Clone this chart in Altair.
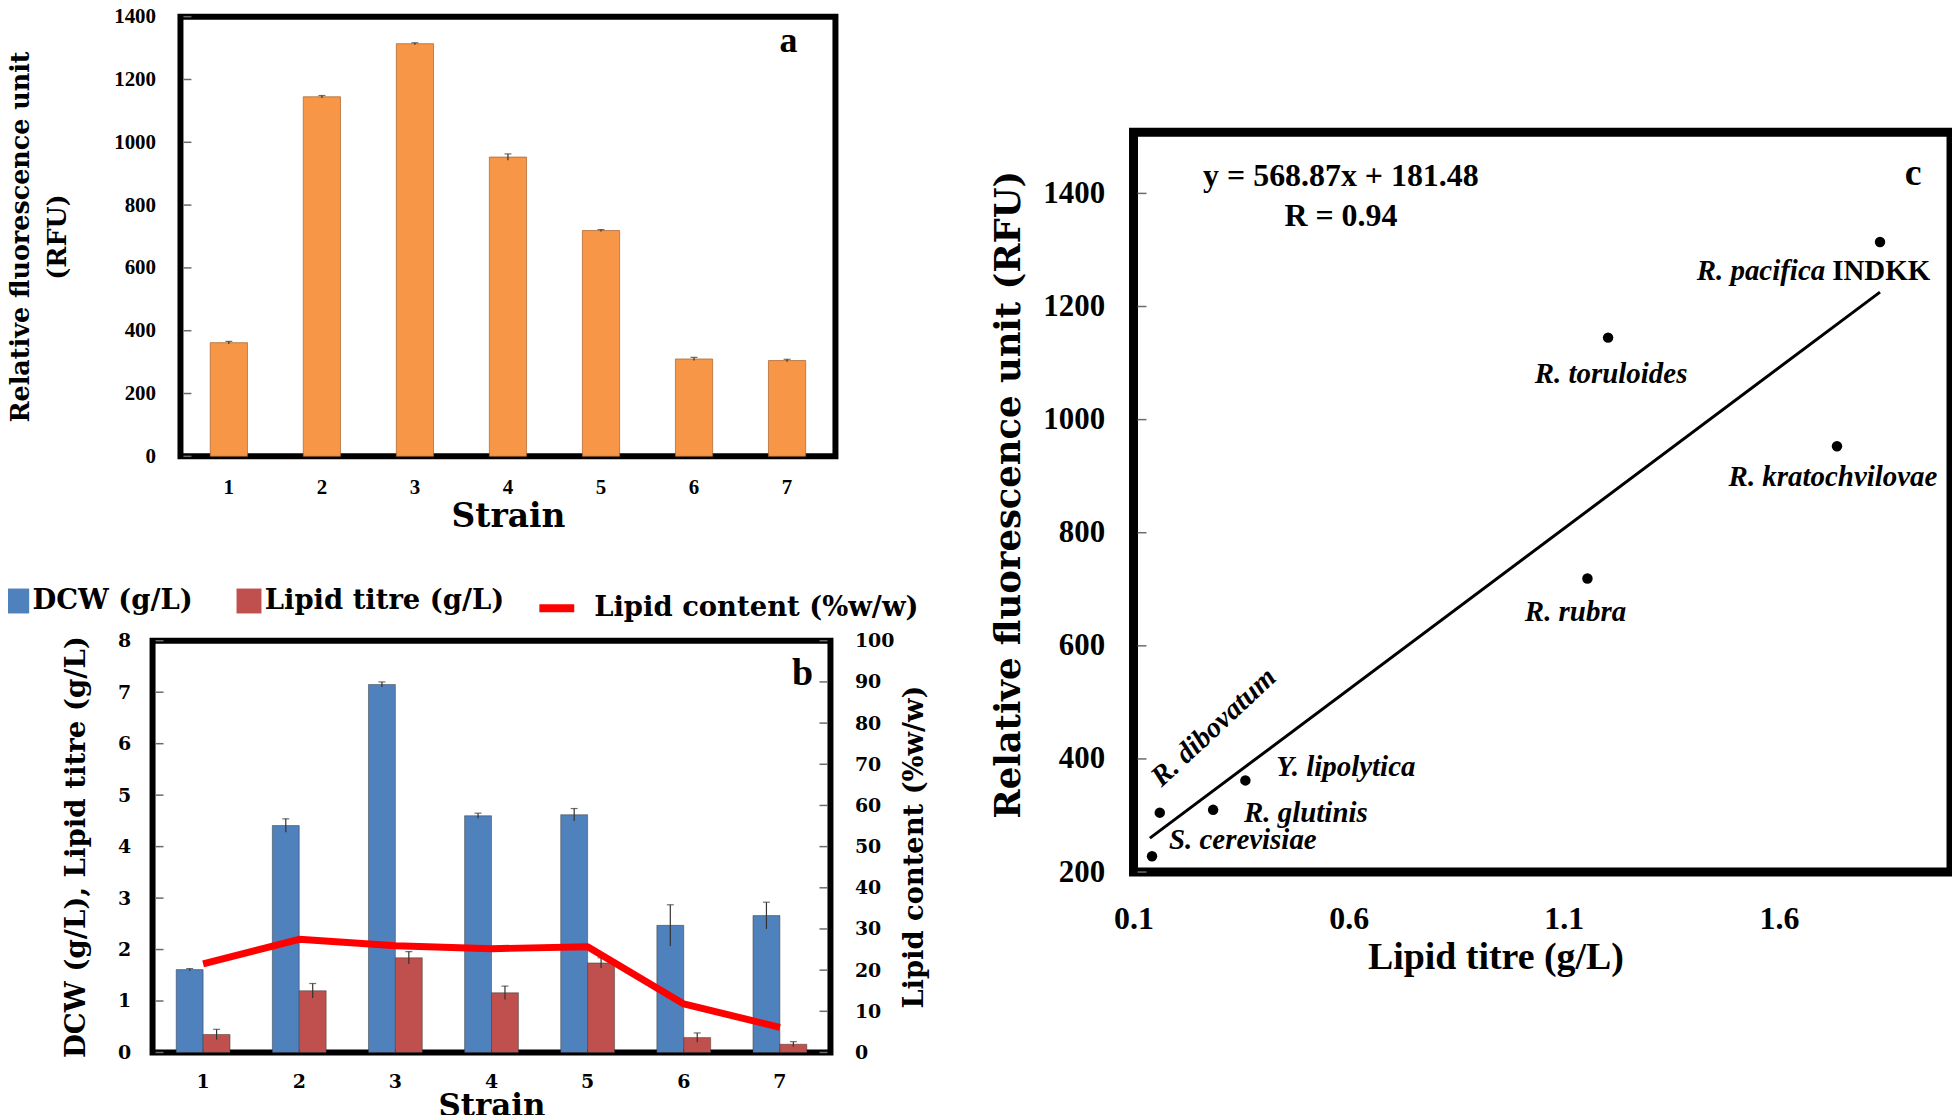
import altair as alt
import pandas as pd

# ---------------- data ----------------
strains = ["1", "2", "3", "4", "5", "6", "7"]

# panel a
rfu = [362, 1145, 1314, 953, 719, 310, 305]
rfu_err = [4, 4, 3, 10, 3, 5, 4]
rfu_ticks = list(range(0, 1401, 200))

# panel b
dcw = [1.61, 4.41, 7.15, 4.60, 4.62, 2.47, 2.66]
dcw_err = [0.02, 0.13, 0.05, 0.05, 0.12, 0.40, 0.26]
lipid = [0.35, 1.20, 1.84, 1.16, 1.74, 0.29, 0.16]
lipid_err = [0.10, 0.14, 0.12, 0.13, 0.10, 0.09, 0.05]
lipid_content = [21.5, 27.5, 25.9, 25.2, 25.7, 11.8, 6.1]
series_b = ["DCW (g/L)", "Lipid titre (g/L)"]
series_line = "Lipid content (%w/w)"
left_ticks_b = list(range(0, 9))
right_ticks_b = list(range(0, 101, 10))

# panel c
species = ["S. cerevisiae", "R. dibovatum", "R. glutinis", "Y. lipolytica",
           "R. rubra", "R. toruloides", "R. kratochvilovae", "R. pacifica INDKK"]
titre_c = [0.143, 0.161, 0.285, 0.360, 1.155, 1.203, 1.735, 1.835]
rfu_c = [228, 305, 310, 362, 719, 1145, 953, 1314]
fit_slope = 568.87
fit_intercept = 181.48
fit_x = [0.138, 1.835]
titre_ticks = [0.1, 0.6, 1.1, 1.6]
rfu_ticks_c = list(range(200, 1401, 200))

# ---------------- styles ----------------
SERIF_W = "DejaVu Serif"
TIMES = "Liberation Serif"
BLACK = "black"
TICK = "#6b6b6b"


def frame(w):
    return alt.ViewBackground(stroke="black", strokeWidth=w)


# ---------------- panel a ----------------
df_a = pd.DataFrame({"strain": strains, "rfu": rfu, "err": rfu_err})
df_a["lo"] = df_a["rfu"] - df_a["err"]
df_a["hi"] = df_a["rfu"] + df_a["err"]

xa_scale = alt.Scale(paddingInner=0.6, paddingOuter=0.32)
ya_scale = alt.Scale(domain=[0, 1400], nice=False)
xa = alt.X("strain:O", scale=xa_scale, sort=strains,
           axis=alt.Axis(title="Strain", labelAngle=0, ticks=False, domain=False,
                         labelFont=TIMES, labelFontSize=21, labelFontWeight="bold",
                         labelColor=BLACK, labelPadding=20,
                         titleFont=SERIF_W, titleFontSize=33, titleFontWeight="bold",
                         titleColor=BLACK, titlePadding=3))
ya_axis = alt.Axis(values=rfu_ticks, format="d", ticks=False,
                   domain=False, grid=False, labelFont=TIMES, labelFontSize=21,
                   labelFontWeight="bold", labelColor=BLACK, labelPadding=25,
                   title=["Relative fluorescence unit", "(RFU)"],
                   titleFont=SERIF_W, titleFontSize=25.5, titleFontWeight="bold",
                   titleColor=BLACK, titlePadding=43, titleLineHeight=37)
ya = alt.Y("rfu:Q", scale=ya_scale, axis=ya_axis)

base_a = alt.Chart(df_a)
bars_a = base_a.mark_bar(color="#F79646", stroke="#A8602A", strokeWidth=1,
                         strokeOpacity=0.7).encode(x=xa, y=ya)
err_a = base_a.mark_rule(color="#333333", strokeWidth=1.2).encode(
    x=alt.X("strain:O", scale=xa_scale, sort=strains), y="lo:Q", y2="hi:Q")
cap_a = base_a.mark_tick(color="#333333", size=7, thickness=1.2).encode(
    x=alt.X("strain:O", scale=xa_scale, sort=strains), y="hi:Q")
ticks_a = alt.Chart(pd.DataFrame({"rfu": rfu_ticks})).mark_rule(
    color=TICK, strokeWidth=1.5).encode(
    y=alt.Y("rfu:Q", scale=ya_scale, axis=ya_axis), x=alt.value(3), x2=alt.value(11))
lab_a = alt.Chart(pd.DataFrame({"t": ["a"]})).mark_text(
    font=TIMES, fontSize=36, fontWeight="bold", color=BLACK, align="center",
    baseline="middle").encode(text="t:N", x=alt.value(610), y=alt.value(24))

panel_a = alt.layer(bars_a, err_a, cap_a, ticks_a, lab_a).properties(
    width=657, height=441, view=frame(6))

# ---------------- panel b ----------------
df_b = pd.DataFrame({
    "strain": strains * 2,
    "series": [series_b[0]] * 7 + [series_b[1]] * 7,
    "value": dcw + lipid,
    "err": dcw_err + lipid_err,
})
df_b["lo"] = df_b["value"] - df_b["err"]
df_b["hi"] = df_b["value"] + df_b["err"]
df_line = pd.DataFrame({"strain": strains, "content": lipid_content,
                        "series": [series_line] * 7})

xb_scale = alt.Scale(paddingInner=0.44, paddingOuter=0.246)
xb_axis = alt.Axis(title="Strain", labelAngle=0, ticks=False, domain=False,
                   labelFont=SERIF_W, labelFontSize=19, labelFontWeight="bold",
                   labelColor=BLACK, labelPadding=20,
                   titleFont=SERIF_W, titleFontSize=31, titleFontWeight="bold",
                   titleColor=BLACK, titlePadding=0)
xb = alt.X("strain:O", scale=xb_scale, sort=strains, axis=xb_axis)
xoff = alt.XOffset("series:N", scale=alt.Scale(domain=series_b, paddingInner=0,
                                                paddingOuter=0))
yb_scale = alt.Scale(domain=[0, 8], nice=False)
yb_axis = alt.Axis(values=left_ticks_b, ticks=False, domain=False, grid=False,
                   labelFont=SERIF_W, labelFontSize=19, labelFontWeight="bold",
                   labelColor=BLACK, labelPadding=22,
                   title="DCW (g/L), Lipid titre (g/L)",
                   titleFont=SERIF_W, titleFontSize=27.7, titleFontWeight="bold",
                   titleColor=BLACK, titlePadding=27)
yb = alt.Y("value:Q", scale=yb_scale, axis=yb_axis)

base_b = alt.Chart(df_b)
bars_b = base_b.mark_bar(stroke="#333333", strokeWidth=0.8, strokeOpacity=0.6).encode(
    x=xb, xOffset=xoff, y=yb,
    color=alt.Color("series:N",
                    scale=alt.Scale(domain=series_b, range=["#4F81BD", "#C0504D"]),
                    legend=alt.Legend(orient="none", legendX=-150, legendY=-54,
                                      direction="horizontal", title=None,
                                      symbolType="square", symbolSize=625,
                                      symbolStrokeWidth=0, symbolOpacity=1,
                                      labelFont=SERIF_W, labelFontSize=27.5,
                                      labelFontWeight="bold", labelColor=BLACK,
                                      labelLimit=600, labelOffset=2,
                                      columnPadding=42)))
err_b = base_b.mark_rule(color="#333333", strokeWidth=1.2).encode(
    x=alt.X("strain:O", scale=xb_scale, sort=strains), xOffset=xoff,
    y="lo:Q", y2="hi:Q")
cap_b = base_b.mark_tick(color="#333333", size=7, thickness=1.2).encode(
    x=alt.X("strain:O", scale=xb_scale, sort=strains), xOffset=xoff, y="hi:Q")
lticks_b = alt.Chart(pd.DataFrame({"value": left_ticks_b})).mark_rule(
    color=TICK, strokeWidth=1.5).encode(
    y=alt.Y("value:Q", scale=yb_scale, axis=yb_axis), x=alt.value(3), x2=alt.value(11))
left_b = alt.layer(bars_b, err_b, cap_b, lticks_b)

yr_scale = alt.Scale(domain=[0, 100], nice=False)
yr_axis = alt.Axis(orient="right", values=right_ticks_b, ticks=False,
                   domain=False, grid=False, labelFont=SERIF_W, labelFontSize=19,
                   labelFontWeight="bold", labelColor=BLACK, labelPadding=24,
                   title="Lipid content (%w/w)", titleAngle=270,
                   titleBaseline="top",
                   titleFont=SERIF_W, titleFontSize=27.4, titleFontWeight="bold",
                   titleColor=BLACK, titlePadding=7)
line_b = alt.Chart(df_line).mark_line(strokeWidth=7, strokeJoin="round").encode(
    x=alt.X("strain:O", scale=xb_scale, sort=strains),
    y=alt.Y("content:Q", scale=yr_scale, axis=yr_axis),
    stroke=alt.Stroke("series:N", scale=alt.Scale(domain=[series_line], range=["#FF0000"]),
                      legend=alt.Legend(orient="none", legendX=384, legendY=-54,
                                        direction="horizontal", title=None,
                                        symbolType="stroke", symbolSize=1225,
                                        symbolStrokeWidth=8,
                                        labelFont=SERIF_W, labelFontSize=27.5,
                                        labelFontWeight="bold", labelColor=BLACK,
                                        labelLimit=600, labelOffset=16)))
rticks_b = alt.Chart(pd.DataFrame({"content": right_ticks_b})).mark_rule(
    color=TICK, strokeWidth=1.5).encode(
    y=alt.Y("content:Q", scale=yr_scale, axis=yr_axis),
    x=alt.value(669), x2=alt.value(677))
right_b = alt.layer(line_b, rticks_b)

lab_b = alt.Chart(pd.DataFrame({"t": ["b"]})).mark_text(
    font=TIMES, fontSize=38, fontWeight="bold", color=BLACK, align="center",
    baseline="middle").encode(text="t:N", x=alt.value(652), y=alt.value(33))

panel_b = alt.layer(left_b, right_b, lab_b).resolve_scale(y="independent").properties(
    width=680, height=413, view=frame(6))

# ---------------- panel c ----------------
df_c = pd.DataFrame({"species": species, "titre": titre_c, "rfu": rfu_c})
xc_scale = alt.Scale(domain=[0.1, 2.0], nice=False, zero=False)
yc_scale = alt.Scale(domain=[200, 1508], nice=False, zero=False)
xc = alt.X("titre:Q", scale=xc_scale,
           axis=alt.Axis(values=titre_ticks, format=".1f", ticks=False,
                         domain=False, grid=False, labelFlush=False,
                         labelFont=TIMES, labelFontSize=32,
                         labelFontWeight="bold", labelColor=BLACK, labelPadding=32,
                         title="Lipid titre (g/L)", titleFont=TIMES, titleFontSize=38,
                         titleFontWeight="bold", titleColor=BLACK, titlePadding=4,
                         titleX=363))
yc_axis = alt.Axis(values=rfu_ticks_c, format="d", ticks=False,
                   domain=False, grid=False, labelFlush=False,
                   labelFont=TIMES, labelFontSize=31,
                   labelFontWeight="bold", labelColor=BLACK, labelPadding=29,
                   title="Relative fluorescence  unit (RFU)", titleFont=SERIF_W,
                   titleFontSize=35.5, titleFontWeight="bold", titleColor=BLACK,
                   titlePadding=16, titleY=363)
yc = alt.Y("rfu:Q", scale=yc_scale, axis=yc_axis)

base_c = alt.Chart(df_c)
pts_c = base_c.mark_circle(size=110, color="black", opacity=1).encode(x=xc, y=yc)

fit_c = alt.Chart(pd.DataFrame({"titre": fit_x})).transform_calculate(
    rfu=f"{fit_slope} * datum.titre + {fit_intercept}"
).mark_line(color="black", strokeWidth=3).encode(
    x=alt.X("titre:Q", scale=xc_scale), y=alt.Y("rfu:Q", scale=yc_scale))

ticks_c = alt.Chart(pd.DataFrame({"rfu": rfu_ticks_c})).mark_rule(
    color=TICK, strokeWidth=1.5).encode(
    y=alt.Y("rfu:Q", scale=yc_scale, axis=yc_axis), x=alt.value(4), x2=alt.value(13))

label_style = {
    "S. cerevisiae": dict(align="left", dx=17, dy=-16),
    "R. dibovatum": dict(align="center", dx=98, dy=-26, angle=317),
    "R. glutinis": dict(align="left", dx=31, dy=3),
    "Y. lipolytica": dict(align="left", dx=31, dy=-13),
    "R. rubra": dict(align="center", dx=-12, dy=34),
    "R. toruloides": dict(align="center", dx=3, dy=37),
    "R. kratochvilovae": dict(align="center", dx=-4, dy=31),
}
text_layers = []
for sp, st in label_style.items():
    text_layers.append(
        base_c.transform_filter(alt.datum.species == sp).mark_text(
            font=TIMES, fontSize=29, fontWeight="bold", fontStyle="italic",
            color=BLACK, baseline="middle", **st
        ).encode(x=alt.X("titre:Q", scale=xc_scale), y=alt.Y("rfu:Q", scale=yc_scale),
                 text="species:N"))

pac = base_c.transform_filter(alt.datum.species == species[-1]).transform_calculate(
    italic_part="slice(datum.species, 0, 11)",
    upright_part="slice(datum.species, 12)")
text_layers.append(pac.mark_text(
    font=TIMES, fontSize=29, fontWeight="bold", fontStyle="italic", color=BLACK,
    align="right", baseline="alphabetic", dx=-55, dy=38
).encode(x=alt.X("titre:Q", scale=xc_scale), y=alt.Y("rfu:Q", scale=yc_scale),
         text="italic_part:N"))
text_layers.append(pac.mark_text(
    font=TIMES, fontSize=29, fontWeight="bold", color=BLACK,
    align="left", baseline="alphabetic", dx=-48, dy=38
).encode(x=alt.X("titre:Q", scale=xc_scale), y=alt.Y("rfu:Q", scale=yc_scale),
         text="upright_part:N"))

eq_df = pd.DataFrame({"t": [f"y = {fit_slope}x + {fit_intercept}"]})
eq1 = alt.Chart(eq_df).mark_text(font=TIMES, fontSize=32, fontWeight="bold",
                                 color=BLACK, align="center", baseline="middle").encode(
    text="t:N", x=alt.value(208), y=alt.value(44))
r_df = pd.DataFrame({"t": ["R = 0.94"]})
eq2 = alt.Chart(r_df).mark_text(font=TIMES, fontSize=32, fontWeight="bold",
                                color=BLACK, align="center", baseline="middle").encode(
    text="t:N", x=alt.value(208), y=alt.value(84))
lab_c = alt.Chart(pd.DataFrame({"t": ["c"]})).mark_text(
    font=TIMES, fontSize=38, fontWeight="bold", color=BLACK, align="center",
    baseline="middle").encode(text="t:N", x=alt.value(782), y=alt.value(42))

panel_c = alt.layer(fit_c, ticks_c, pts_c, *text_layers, eq1, eq2, lab_c).properties(
    width=820, height=742, view=frame(9))


# ---------------- layout ----------------
def spacer(w, h):
    return alt.Chart(pd.DataFrame({"s": [0]})).mark_point(opacity=0, size=0).encode(
        x=alt.X("s:Q", axis=None), y=alt.Y("s:Q", axis=None)
    ).properties(width=w, height=h,
                 view=alt.ViewBackground(stroke="transparent", strokeWidth=0))


a_row = alt.hconcat(spacer(1, 1), panel_a, spacing=-148)
left_col = alt.vconcat(a_row, panel_b, spacing=48).resolve_legend(
    color="independent", stroke="independent")
c_col = alt.vconcat(spacer(10, 111), panel_c, spacing=0)

chart = alt.hconcat(left_col, c_col, spacing=55).resolve_legend(
    color="independent", stroke="independent").properties(
    padding={"left": -8, "top": -7, "right": -4, "bottom": -11}
).configure_view(stroke="transparent", strokeWidth=0).configure(background="white")

chart.save("out.html", embed_options={"renderer": "svg", "actions": False})
